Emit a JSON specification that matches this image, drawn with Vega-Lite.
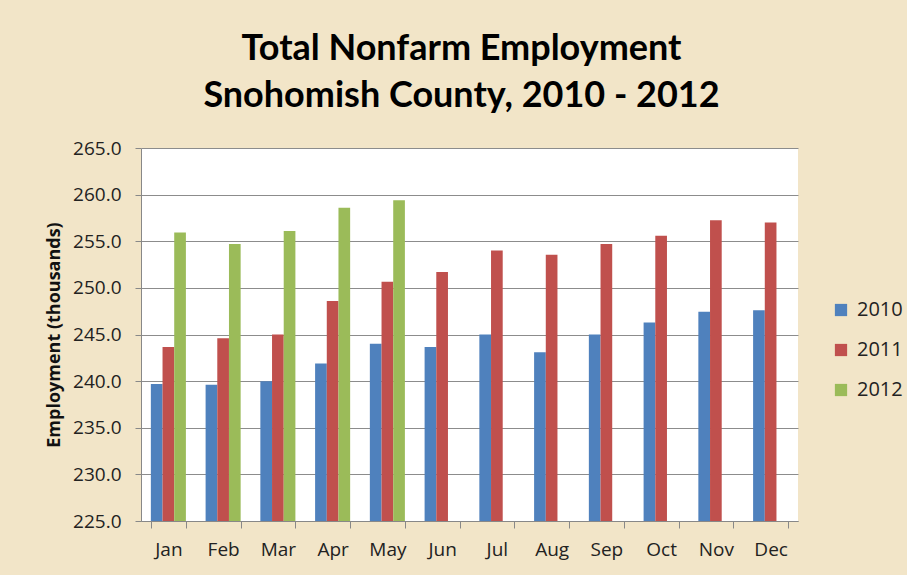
{
  "$schema": "https://vega.github.io/schema/vega-lite/v6.json",
  "width": 657,
  "height": 373,
  "autosize": {"type": "none"},
  "padding": {"left": 141, "top": 148, "right": 109, "bottom": 54},
  "background": "#F2E5C8",
  "title": {
    "text": ["Total Nonfarm Employment", "Snohomish County, 2010 - 2012"],
    "anchor": "middle",
    "dx": -8,
    "offset": 24,
    "font": "Lato",
    "fontSize": 36,
    "fontWeight": "bold",
    "color": "#000000",
    "lineHeight": 47
  },
  "data": {
    "values": [
      {"month": "Jan", "year": "2010", "value": 239.7},
      {"month": "Jan", "year": "2011", "value": 243.65},
      {"month": "Jan", "year": "2012", "value": 255.95},
      {"month": "Feb", "year": "2010", "value": 239.6},
      {"month": "Feb", "year": "2011", "value": 244.6},
      {"month": "Feb", "year": "2012", "value": 254.7},
      {"month": "Mar", "year": "2010", "value": 240.0},
      {"month": "Mar", "year": "2011", "value": 245.0},
      {"month": "Mar", "year": "2012", "value": 256.1},
      {"month": "Apr", "year": "2010", "value": 241.9},
      {"month": "Apr", "year": "2011", "value": 248.6},
      {"month": "Apr", "year": "2012", "value": 258.6},
      {"month": "May", "year": "2010", "value": 244.0},
      {"month": "May", "year": "2011", "value": 250.65},
      {"month": "May", "year": "2012", "value": 259.4},
      {"month": "Jun", "year": "2010", "value": 243.65},
      {"month": "Jun", "year": "2011", "value": 251.7},
      {"month": "Jul", "year": "2010", "value": 245.0},
      {"month": "Jul", "year": "2011", "value": 254.0},
      {"month": "Aug", "year": "2010", "value": 243.1},
      {"month": "Aug", "year": "2011", "value": 253.55},
      {"month": "Sep", "year": "2010", "value": 245.0},
      {"month": "Sep", "year": "2011", "value": 254.7},
      {"month": "Oct", "year": "2010", "value": 246.3},
      {"month": "Oct", "year": "2011", "value": 255.6},
      {"month": "Nov", "year": "2010", "value": 247.45},
      {"month": "Nov", "year": "2011", "value": 257.25},
      {"month": "Dec", "year": "2010", "value": 247.6},
      {"month": "Dec", "year": "2011", "value": 257.0}
    ]
  },
  "mark": {"type": "bar", "clip": true},
  "encoding": {
    "x": {
      "field": "month",
      "type": "nominal",
      "sort": ["Jan", "Feb", "Mar", "Apr", "May", "Jun", "Jul", "Aug", "Sep", "Oct", "Nov", "Dec"],
      "scale": {"paddingInner": 0.36, "paddingOuter": 0.18},
      "axis": {
        "title": null,
        "labelAngle": 0,
        "tickBand": "extent",
        "tickSize": 7,
        "tickColor": "#888888",
        "domainColor": "#888888",
        "labelPadding": 12,
        "labelFont": "Open Sans",
        "labelFontSize": 19,
        "labelColor": "#222222",
        "grid": false
      }
    },
    "xOffset": {
      "field": "year",
      "type": "nominal",
      "scale": {"domain": ["2010", "2011", "2012"], "paddingInner": 0, "paddingOuter": 0}
    },
    "y": {
      "field": "value",
      "type": "quantitative",
      "scale": {"domain": [225, 265], "zero": false, "nice": false},
      "axis": {
        "title": "Employment (thousands)",
        "values": [225, 230, 235, 240, 245, 250, 255, 260, 265],
        "format": ".1f",
        "tickSize": 6,
        "tickColor": "#888888",
        "domainColor": "#888888",
        "gridColor": "#8c8c8c",
        "gridWidth": 1,
        "labelPadding": 14,
        "labelFont": "Open Sans",
        "labelFontSize": 19,
        "labelColor": "#222222",
        "titleFont": "Open Sans",
        "titleFontSize": 18,
        "titleFontWeight": "bold",
        "titleColor": "#111111",
        "titlePadding": 9
      }
    },
    "color": {
      "field": "year",
      "type": "nominal",
      "scale": {"domain": ["2010", "2011", "2012"], "range": ["#4F81BD", "#C0504D", "#9BBB59"]},
      "legend": {
        "title": null,
        "orient": "none",
        "legendX": 690,
        "legendY": 152,
        "symbolType": "square",
        "symbolSize": 150,
        "symbolStrokeWidth": 0,
        "labelFont": "Open Sans",
        "labelFontSize": 20,
        "labelColor": "#222222",
        "rowPadding": 20,
        "labelOffset": 6
      }
    }
  },
  "config": {
    "view": {"fill": "white", "stroke": null}
  }
}
